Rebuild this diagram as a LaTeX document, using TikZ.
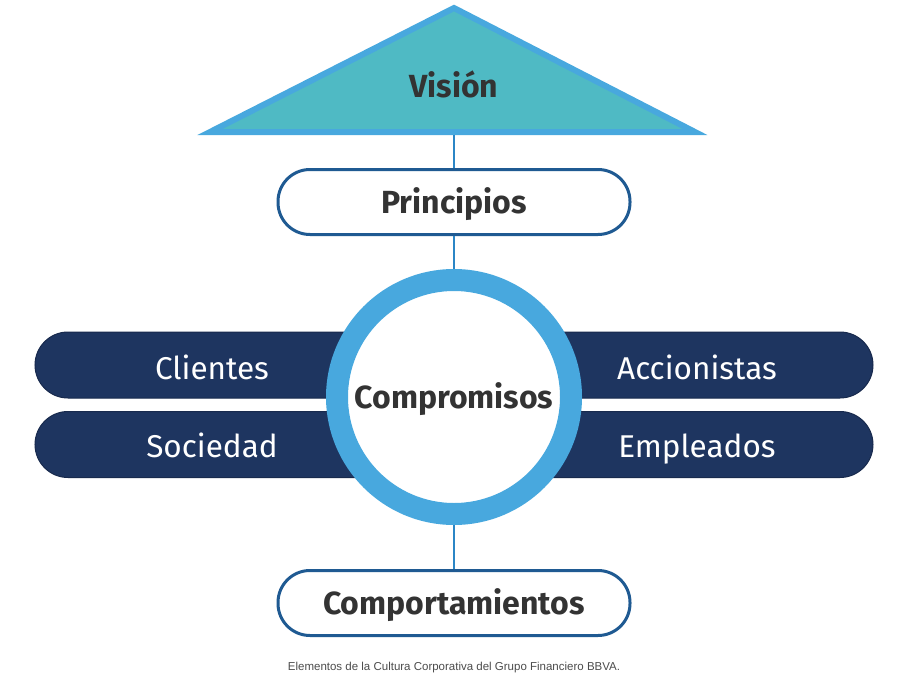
\documentclass[tikz,border=0pt]{standalone}
\usepackage{fontspec}
\setmainfont{Fira Sans}
\newfontfamily\captionfont{Liberation Sans}
\definecolor{visionfill}{HTML}{4FBAC4}
\definecolor{ringblue}{HTML}{48A8DE}
\definecolor{linkblue}{HTML}{2B86C6}
\definecolor{boxblue}{HTML}{1F5A92}
\definecolor{barnavy}{HTML}{1E3560}
\definecolor{textgray}{HTML}{333333}
\tikzset{
  headtext/.style={text=textgray, font=\fontsize{32}{36}\selectfont\bfseries,
    text height=22pt, text depth=0pt},
  pillbox/.style={headtext, draw=boxblue, line width=3pt, fill=white, rounded corners=32pt,
    minimum width=352pt, minimum height=65pt},
  barbox/.style={draw=barnavy!80!black, line width=1pt, fill=barnavy, rounded corners=33pt,
    minimum width=838pt, minimum height=66pt},
  bartext/.style={text=white, font=\fontsize{31.5}{36}\selectfont,
    text height=21.7pt, text depth=0pt},
  link/.style={draw=linkblue, line width=2.5pt}
}
\begin{document}
\begin{tikzpicture}[x=1pt,y=-1pt]
        \useasboundingbox[fill=white] (0,0) rectangle (924,677);

        % triangle at the top
        \draw[ringblue, fill=visionfill, line width=6pt, line join=miter]
          (454,8) -- (695,132) -- (210,132) -- cycle;
        \node[headtext] (vision) at (454,87) {Visión};
        \coordinate (visionbase) at (454,135);

        % bars behind the ring
        \node[barbox] (topbar) at (454,365) {};
        \node[barbox] (lowbar) at (454,444.5) {};

        \node[bartext] (clientes) at (212,369) {Clientes};
        \node[bartext] (sociedad) at (212,447) {Sociedad};
        \node[bartext] (accionistas) at (697,369) {Accionistas};
        \node[bartext] (empleados) at (697,447) {Empleados};

        % ring
        \node[headtext, circle, draw=ringblue, line width=22pt, fill=white,
          minimum size=234pt, inner sep=0pt] (compromisos) at (454,397) {Compromisos};

        \node[pillbox] (principios) at (454,202) {Principios};
        \node[pillbox] (comportamientos) at (454,603) {Comportamientos};

        \draw[link] (visionbase) -- (principios.north);
        \draw[link] (principios.south) -- (compromisos.north);
        \draw[link] (compromisos.south) -- (comportamientos.north);

        \node[text=black!70, font=\captionfont\fontsize{11.5}{13}\selectfont] (caption) at (454,668)
          {Elementos de la Cultura Corporativa del Grupo Financiero BBVA.};
\end{tikzpicture}
\end{document}
